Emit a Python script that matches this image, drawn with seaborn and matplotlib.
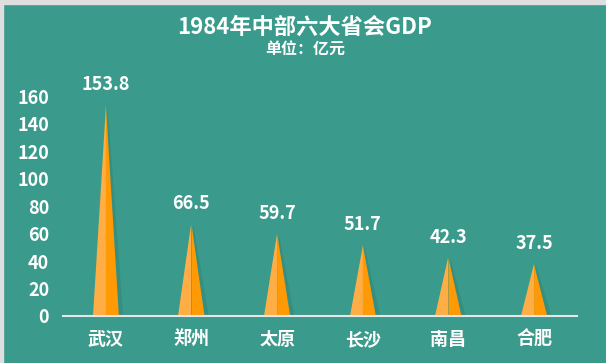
import numpy as np
import matplotlib
matplotlib.use("Agg")
import matplotlib.pyplot as plt
import seaborn as sns
from matplotlib.patches import Rectangle

cities = ["武汉", "郑州", "太原", "长沙", "南昌", "合肥"]
gdp = [153.8, 66.5, 59.7, 51.7, 42.3, 37.5]
yticks = [0, 20, 40, 60, 80, 100, 120, 140, 160]

sns.set_theme(style="white")
plt.rcParams["font.family"] = ["Noto Sans CJK SC", "DejaVu Sans"]

teal = "#3a9a8b"
light = "#ffad45"
dark = "#ff9a05"

fig = plt.figure(figsize=(6.06, 3.63), dpi=100, facecolor=teal)
# light grey frame on top and left
fig.patches.append(Rectangle((0, 1 - 4 / 363), 1, 4 / 363, transform=fig.transFigure,
                             color="#dedede", zorder=0))
fig.patches.append(Rectangle((0, 0), 3 / 606, 1, transform=fig.transFigure,
                             color="#dedede", zorder=0))

ax = fig.add_axes([0.104, 0.1295, 0.848, 0.6815])
ax.set_facecolor(teal)

half = 0.152
for i, v in enumerate(gdp):
    # soft shadow on the right
    ax.fill([i + 0.02, i + half + 0.05, i + 0.02], [0, 0, v], color="#1f5f55",
            alpha=0.18, lw=0, zorder=1)
    ax.fill([i - half, i, i], [0, 0, v], color=light, lw=0, zorder=2)
    ax.fill([i, i + half, i], [0, 0, v], color=dark, lw=0, zorder=2)
    ax.annotate(f"{v}", (i, v), xytext=(0, 8), textcoords="offset points",
                ha="center", va="bottom", color="white", fontsize=13,
                fontweight="bold")

ax.set_xlim(-0.5, len(cities) - 0.5)
ax.set_ylim(0, 180)
ax.set_yticks(yticks)
ax.set_yticklabels([str(t) for t in yticks], color="white", fontsize=13,
                   fontweight="bold")
ax.set_xticks(range(len(cities)))
ax.set_xticklabels(cities, color="white", fontsize=13, fontweight="bold")
ax.tick_params(axis="both", length=0)
ax.tick_params(axis="x", pad=10)
ax.tick_params(axis="y", pad=10)

for s in ["top", "right", "left"]:
    ax.spines[s].set_visible(False)
ax.spines["bottom"].set_color("#e6e6e6")
ax.spines["bottom"].set_linewidth(1.5)

fig.text(0.503, 0.926, "1984年中部六大省会GDP", ha="center", va="center",
         color="white", fontsize=16, fontweight="bold")
fig.text(0.503, 0.862, "单位：亿元", ha="center", va="center",
         color="white", fontsize=11.5, fontweight="bold")

fig.savefig("out.png", dpi=100, facecolor=teal)
